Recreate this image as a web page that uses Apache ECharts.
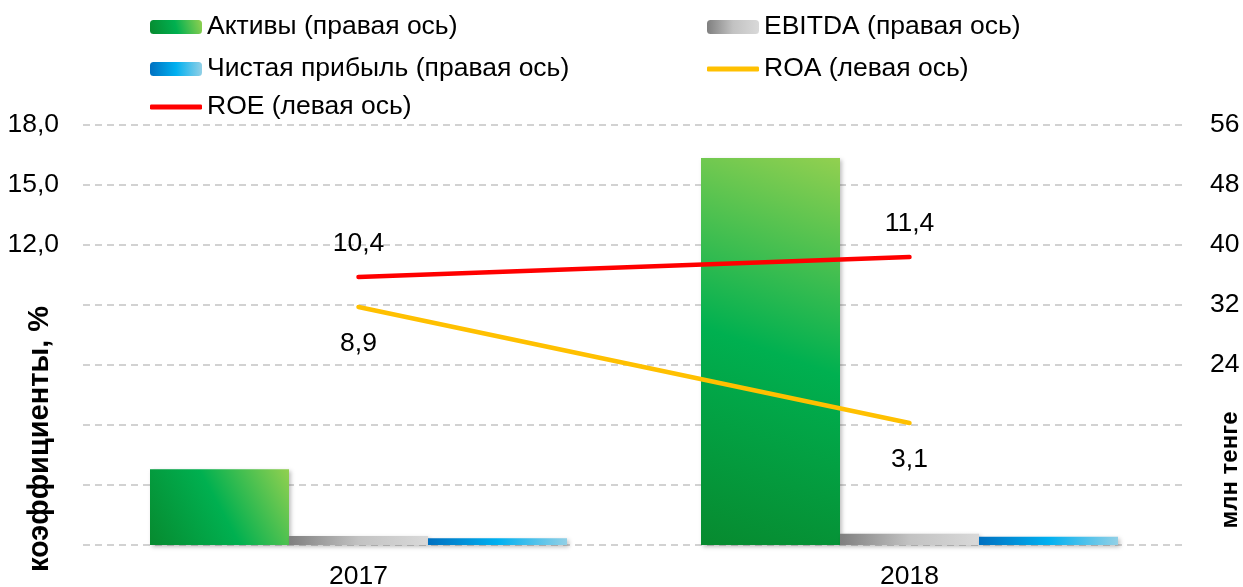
<!DOCTYPE html>
<html>
<head>
<meta charset="utf-8">
<script src="https://cdn.jsdelivr.net/npm/echarts@6/dist/echarts.min.js"></script>
<style>
  html, body { margin: 0; padding: 0; background: #ffffff; }
  #chart { width: 1243px; height: 587px; }
</style>
</head>
<body>
<div id="chart"></div>
<script>
// ---- data ----
const categories = ['2017', '2018'];
const assets = [10.1, 51.6];      // Активы, млн тенге (правая ось)
const ebitda = [1.2, 1.5];        // EBITDA, млн тенге (правая ось)
const netProfit = [0.9, 1.1];     // Чистая прибыль, млн тенге (правая ось)
const roa = [8.9, 3.1];           // ROA, % (левая ось)
const roe = [10.4, 11.4];         // ROE, % (левая ось)
const leftTickLabels = ['18,0', '15,0', '12,0'];
const rightTickLabels = ['56', '48', '40', '32', '24'];
const seriesNames = ['Активы (правая ось)', 'EBITDA (правая ось)', 'Чистая прибыль (правая ось)', 'ROA (левая ось)', 'ROE (левая ось)'];
const leftAxisName = 'коэффициенты, %';
const rightAxisName = 'млн тенге';

const FONT = '"Liberation Sans", Arial, sans-serif';
const FS = 26.5;
const fmtComma = v => Number(v).toFixed(1).replace('.', ',');

const grad = (x, y, x2, y2, stops) => new echarts.graphic.LinearGradient(x, y, x2, y2,
  stops.map((c, i) => ({ offset: i / (stops.length - 1), color: c })));

const shadow = { shadowBlur: 4, shadowColor: 'rgba(0,0,0,0.25)', shadowOffsetX: 2, shadowOffsetY: 2 };

const legendText = { fontFamily: FONT, fontSize: FS, color: '#000', lineHeight: 30 };
const legendBase = { padding: 0, itemWidth: 52, itemHeight: 14, textStyle: legendText, selectedMode: false };

const chart = echarts.init(document.getElementById('chart'), null, { renderer: 'canvas' });
chart.setOption({
  animation: false,
  backgroundColor: '#ffffff',
  textStyle: { fontFamily: FONT },
  legend: [
    Object.assign({}, legendBase, { left: 150, top: 12, data: [seriesNames[0]] }),
    Object.assign({}, legendBase, { left: 707, top: 12, data: [seriesNames[1]] }),
    Object.assign({}, legendBase, { left: 150, top: 54, data: [seriesNames[2]] }),
    Object.assign({}, legendBase, { left: 707, top: 54, itemHeight: 5, data: [{ name: seriesNames[3], icon: 'roundRect' }] }),
    Object.assign({}, legendBase, { left: 150, top: 92, itemHeight: 5, data: [{ name: seriesNames[4], icon: 'roundRect' }] })
  ],
  grid: { left: 83, right: 58, top: 125, bottom: 42, containLabel: false, outerBoundsMode: 'none' },
  xAxis: {
    type: 'category',
    data: categories,
    boundaryGap: true,
    axisLine: { show: false },
    axisTick: { show: false },
    axisLabel: { fontFamily: FONT, fontSize: FS, color: '#000', margin: 18 }
  },
  yAxis: [
    {
      type: 'value', min: -3, max: 18, interval: 3, position: 'left',
      axisLine: { show: false }, axisTick: { show: false },
      axisLabel: {
        fontFamily: FONT, fontSize: FS, color: '#000', margin: 24,
        formatter: v => { const s = fmtComma(v); return leftTickLabels.indexOf(s) >= 0 ? s : ''; }
      },
      splitLine: { show: true, lineStyle: { color: '#c4c4c4', width: 1.5, type: [7, 5] } }
    },
    {
      type: 'value', min: 0, max: 56, interval: 8, position: 'right',
      axisLine: { show: false }, axisTick: { show: false },
      axisLabel: {
        fontFamily: FONT, fontSize: FS, color: '#000', margin: 25,
        formatter: v => { const s = String(v); return rightTickLabels.indexOf(s) >= 0 ? s : ''; }
      },
      splitLine: { show: false }
    }
  ],
  graphic: [
    {
      type: 'text', x: 40, y: 439, rotation: Math.PI / 2,
      style: { text: leftAxisName, font: 'bold 29px "Liberation Sans", Arial, sans-serif', fill: '#000', align: 'center', verticalAlign: 'middle' }
    },
    {
      type: 'text', x: 1230, y: 470, rotation: Math.PI / 2,
      style: { text: rightAxisName, font: 'bold 24px "Liberation Sans", Arial, sans-serif', fill: '#000', align: 'center', verticalAlign: 'middle' }
    }
  ],
  series: [
    {
      name: seriesNames[0], type: 'bar', yAxisIndex: 1, data: assets,
      barWidth: 139, barGap: '0%',
      itemStyle: Object.assign({ color: grad(0, 1, 1, 0, ['#078a2f', '#00b050', '#92d050']) }, shadow)
    },
    {
      name: seriesNames[1], type: 'bar', yAxisIndex: 1, data: ebitda,
      barWidth: 139, barGap: '0%',
      itemStyle: Object.assign({ color: grad(0, 0, 1, 0, ['#7f7f7f', '#c2c2c2', '#d9d9d9']) }, shadow)
    },
    {
      name: seriesNames[2], type: 'bar', yAxisIndex: 1, data: netProfit,
      barWidth: 139, barGap: '0%',
      itemStyle: Object.assign({ color: grad(0, 0, 1, 0, ['#0070c0', '#00b0f0', '#92d0e6']) }, shadow)
    },
    {
      name: seriesNames[3], type: 'line', yAxisIndex: 0, data: roa,
      symbol: 'circle', symbolSize: 1, showSymbol: true,
      itemStyle: { color: '#ffc000' },
      lineStyle: { color: '#ffc000', width: 4.5, cap: 'round' },
      label: { show: true, position: 'bottom', distance: 23, fontFamily: FONT, fontSize: FS, color: '#000', formatter: p => fmtComma(p.value) },
      z: 5
    },
    {
      name: seriesNames[4], type: 'line', yAxisIndex: 0, data: roe,
      symbol: 'circle', symbolSize: 1, showSymbol: true,
      itemStyle: { color: '#ff0000' },
      lineStyle: { color: '#ff0000', width: 4.5, cap: 'round' },
      label: { show: true, position: 'top', distance: 19, fontFamily: FONT, fontSize: FS, color: '#000', formatter: p => fmtComma(p.value) },
      z: 5
    }
  ]
});
</script>
</body>
</html>
